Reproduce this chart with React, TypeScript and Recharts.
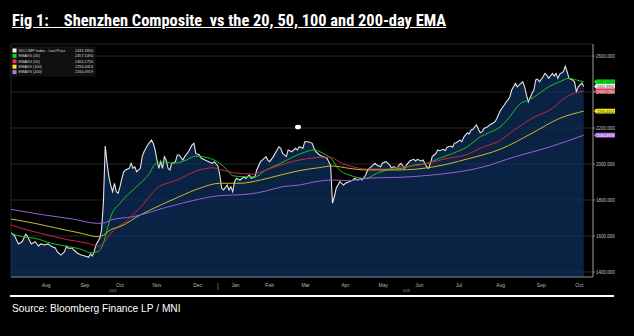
import React from 'react';
import {
  ComposedChart,
  Area,
  Line,
  XAxis,
  YAxis,
  CartesianGrid,
  ReferenceLine,
} from 'recharts';

// x = trading day index (0 = mid-Jul 2024), y = index level
const PRICE_DAYS = [
  0, 2, 4, 6, 7, 8, 9, 11, 13, 15, 16, 18, 20, 22, 24, 25, 27, 29, 30, 31, 33, 34, 36, 38, 40,
  42, 43, 44, 45, 46, 48, 49, 50, 51, 52, 53, 54, 55, 56, 57, 58, 59, 60, 61, 62, 64, 65, 66,
  67, 68, 70, 71, 72, 74, 76, 77, 78, 79, 80, 81, 82, 83, 84, 85, 86, 87, 89, 90, 91, 93, 94,
  96, 98, 99, 100, 102, 103, 105, 107, 109, 110, 112, 113, 114, 115, 117, 118, 119, 120, 121,
  122, 124, 126, 127, 129, 130, 132, 133, 135, 136, 138, 139, 140, 142, 144, 145, 146, 147,
  149, 150, 152, 154, 155, 156, 158, 159, 161, 163, 164, 165, 167, 169, 171, 172, 173, 174,
  175, 176, 178, 180, 181, 183, 185, 186, 188, 189, 190, 192, 193, 195, 197, 198, 200, 201,
  203, 205, 206, 207, 209, 210, 211, 213, 214, 216, 218, 219, 220, 222, 223, 224, 225, 226,
  227, 228, 229, 230, 231, 232, 234, 235, 236, 238, 239, 240, 241, 243, 244, 245, 247, 248,
  249, 250, 251, 252, 253, 254, 255, 256, 258, 259, 261, 262, 263, 264, 265, 267, 268, 269,
  270, 271, 272, 273, 274, 276, 277, 278, 279, 280, 282, 283, 284, 285, 286, 288, 289, 290,
  291, 293, 294, 295, 296, 297, 299, 300, 301, 302, 304, 305, 306, 307, 309, 310,
];
const PRICE_VALUES = [
  1618, 1600, 1556, 1568, 1589, 1611, 1596, 1556, 1568, 1544, 1556, 1550, 1556, 1541, 1533,
  1513, 1494, 1513, 1544, 1532, 1532, 1522, 1504, 1494, 1489, 1482, 1500, 1489, 1513, 1550,
  1587, 1633, 1783, 2100, 2004, 1929, 1880, 1846, 1893, 1846, 1837, 1874, 1920, 1957, 1967,
  1976, 2004, 1976, 1985, 1957, 1976, 2041, 2068, 2106, 2133, 2115, 2078, 2022, 1976, 2013,
  1976, 2041, 2022, 1976, 1967, 2004, 2013, 2050, 2050, 2022, 2041, 2068, 2106, 2115, 2059,
  2050, 2032, 2022, 2013, 2004, 2013, 1989, 1939, 1865, 1856, 1883, 1856, 1874, 1846, 1902,
  1920, 1911, 1929, 1920, 1939, 1920, 1929, 1967, 2013, 2022, 2041, 2022, 2013, 2041, 2078,
  2096, 2087, 2059, 2041, 2078, 2068, 2087, 2078, 2096, 2087, 2124, 2124, 2115, 2087, 2068,
  2050, 2041, 2032, 2013, 1990, 1782, 1818, 1865, 1902, 1883, 1893, 1902, 1911, 1920, 1911,
  1920, 1911, 1939, 1967, 1985, 2004, 1994, 1985, 2004, 2013, 1994, 1976, 1985, 1976, 1994,
  2004, 1976, 1994, 2018, 2026, 2017, 2026, 2017, 2022, 2004, 1985, 1976, 2004, 2041, 2050,
  2059, 2078, 2074, 2082, 2074, 2093, 2100, 2093, 2115, 2118, 2133, 2124, 2148, 2174, 2167,
  2189, 2193, 2207, 2217, 2193, 2174, 2180, 2198, 2207, 2217, 2228, 2235, 2254, 2278, 2300,
  2328, 2346, 2356, 2374, 2411, 2429, 2448, 2429, 2448, 2457, 2429, 2383, 2346, 2393, 2411,
  2467, 2471, 2457, 2485, 2504, 2494, 2476, 2504, 2489, 2504, 2476, 2500, 2513, 2544, 2513,
  2476, 2467, 2457, 2402, 2429, 2450, 2431,
];

const EMA20_DAYS = [0, 6, 13, 22, 31, 38, 43, 47, 50, 52, 54, 59, 64, 70, 75, 78, 82, 88, 95, 100, 108, 113, 117, 120, 126, 132, 138, 146, 153, 158, 164, 169, 174, 177, 183, 192, 198, 205, 212, 218, 225, 232, 239, 247, 254, 259, 265, 270, 275, 281, 286, 291, 297, 302, 306, 310];
const EMA20_VALUES = [1615, 1596, 1587, 1559, 1541, 1526, 1507, 1513, 1559, 1633, 1707, 1782, 1837, 1893, 1948, 2000, 2013, 2004, 2022, 2044, 2030, 2004, 1967, 1935, 1929, 1929, 1967, 2004, 2041, 2062, 2078, 2059, 2022, 1975, 1939, 1920, 1948, 1970, 1976, 1994, 2004, 2032, 2059, 2096, 2152, 2175, 2208, 2263, 2330, 2359, 2393, 2429, 2457, 2476, 2467, 2457];

const EMA50_DAYS = [0, 9, 20, 31, 40, 46, 48, 50, 54, 63, 72, 79, 90, 100, 109, 113, 120, 131, 138, 149, 156, 165, 172, 180, 185, 192, 203, 210, 221, 237, 246, 255, 265, 270, 282, 293, 300, 305, 310];
const EMA50_VALUES = [1661, 1633, 1605, 1578, 1563, 1547, 1544, 1560, 1615, 1689, 1782, 1865, 1911, 1960, 1979, 1970, 1952, 1944, 1967, 2004, 2022, 2035, 2039, 2000, 1985, 1972, 1972, 1982, 1994, 2033, 2050, 2092, 2133, 2171, 2254, 2309, 2370, 2394, 2405];

const EMA100_DAYS = [0, 13, 25, 38, 47, 50, 54, 59, 70, 81, 91, 102, 113, 124, 135, 146, 156, 167, 174, 183, 192, 210, 228, 247, 265, 282, 297, 310];
const EMA100_VALUES = [1694, 1670, 1643, 1615, 1596, 1605, 1635, 1652, 1717, 1772, 1818, 1865, 1893, 1893, 1911, 1939, 1963, 1980, 1989, 1976, 1967, 1967, 1983, 2028, 2083, 2171, 2254, 2294];

const EMA200_DAYS = [0, 16, 34, 47, 51, 54, 66, 84, 102, 111, 129, 138, 147, 156, 165, 174, 183, 192, 216, 228, 255, 273, 291, 310];
const EMA200_VALUES = [1748, 1720, 1693, 1670, 1674, 1689, 1707, 1759, 1805, 1822, 1833, 1850, 1874, 1883, 1902, 1911, 1907, 1920, 1929, 1939, 1982, 2041, 2093, 2160];

// month boundaries (trading day index) and their labels
const MONTH_BOUNDS = [8, 30, 50, 68, 90, 112, 131, 149, 170, 192, 211, 231, 254, 276, 298, 317];
const MONTH_LABELS = ['Aug', 'Sep', 'Oct', 'Nov', 'Dec', 'Jan', 'Feb', 'Mar', 'Apr', 'May', 'Jun', 'Jul', 'Aug', 'Sep', 'Oct'];
const YEAR_DAYS = [55, 214];
const YEAR_LABELS = ['2024', '2025'];
const YEAR_BREAK = 112;

const Y_TICKS = [1400, 1600, 1800, 2000, 2200, 2400, 2600];

const SERIES = [
  { name: 'SZCOMP Index - Last Price', last: '2431.3950', color: '#ffffff', tag: '#f2f2f2', tagText: '#333', value: 2431 },
  { name: 'EMAVG (20)', last: '2457.1494', color: '#1fc21f', tag: '#10e010', tagText: '#063', value: 2457 },
  { name: 'EMAVG (50)', last: '2405.1750', color: '#c8263f', tag: '#f0304a', tagText: '#fdd', value: 2405 },
  { name: 'EMAVG (100)', last: '2294.4414', color: '#c9be2a', tag: '#f2ea10', tagText: '#443', value: 2294 },
  { name: 'EMAVG (200)', last: '2160.4919', color: '#9a5fd6', tag: '#b274ec', tagText: '#eee', value: 2160 },
];

const toRows = (days: number[], vals: number[]) => days.map((d, i) => ({ day: d, v: vals[i] }));
const priceData = toRows(PRICE_DAYS, PRICE_VALUES);
const emaData = [
  toRows(EMA20_DAYS, EMA20_VALUES),
  toRows(EMA50_DAYS, EMA50_VALUES),
  toRows(EMA100_DAYS, EMA100_VALUES),
  toRows(EMA200_DAYS, EMA200_VALUES),
];

const monthTicks = MONTH_BOUNDS.slice(0, -1);
const labelTicks = MONTH_LABELS.map((_, i) => (MONTH_BOUNDS[i] + MONTH_BOUNDS[i + 1]) / 2);

const FONT = '"Liberation Sans", Arial, sans-serif';

const BottomTick = (props: any) => {
  const { x, y, payload } = props;
  const v = payload.value;
  const mi = labelTicks.indexOf(v);
  if (mi >= 0) {
    return (
      <text x={x} y={y + 4} textAnchor="middle" fontSize={5} fill="#b9b9b9" fontFamily={FONT}>
        {MONTH_LABELS[mi]}
      </text>
    );
  }
  const yi = YEAR_DAYS.indexOf(v);
  if (yi >= 0) {
    return (
      <text x={x} y={y + 9} textAnchor="middle" fontSize={3.5} fill="#9a9a9a" fontFamily={FONT}>
        {YEAR_LABELS[yi]}
      </text>
    );
  }
  return <line x1={x} x2={x} y1={y} y2={y + 7} stroke="#9a9a9a" strokeWidth={0.6} />;
};

const PriceTag = (props: any) => {
  const { viewBox, fill, textFill, text } = props;
  const x = viewBox.x + viewBox.width + 1;
  const y = viewBox.y;
  return (
    <g>
      <path
        d={`M${x},${y} L${x + 2},${y - 2.4} L${x + 21},${y - 2.4} L${x + 21},${y + 2.4} L${x + 2},${y + 2.4} Z`}
        fill={fill}
      />
      <text x={x + 3} y={y + 1.4} fontSize={3.6} fill={textFill} fontFamily={FONT}>
        {text}
      </text>
    </g>
  );
};

const Legend = () => (
  <svg
    width={634}
    height={336}
    style={{ position: 'absolute', left: 0, top: 0, pointerEvents: 'none' }}
  >
    <rect x={10} y={47} width={85} height={29} fill="#101010" stroke="#222" strokeWidth={0.5} />
    {SERIES.map((s, i) => (
      <g key={s.name}>
        <rect x={12.5} y={48.5 + i * 5.4} width={4} height={4} fill={s.tag} />
        <text x={18.5} y={51.8 + i * 5.4} fontSize={3.8} fill="#d8d8d8" fontFamily={FONT}>
          {s.name}
        </text>
        <text x={93} y={51.8 + i * 5.4} fontSize={3.8} fill="#d8d8d8" textAnchor="end" fontFamily={FONT}>
          {s.last}
        </text>
      </g>
    ))}
    <ellipse cx={298} cy={127} rx={3} ry={2.3} fill="#ffffff" />
  </svg>
);

export default function App() {
  return (
    <div
      style={{
        position: 'fixed',
        left: 0,
        top: 0,
        width: 634,
        height: 336,
        background: '#000',
        overflow: 'hidden',
      }}
    >
      <div
        style={{
          position: 'absolute',
          left: 12,
          top: 11,
          color: '#fff',
          fontFamily: '"Liberation Sans Narrow", "Roboto Condensed", "DejaVu Sans Condensed", sans-serif',
          fontWeight: 700,
          fontSize: 16.4,
          textDecoration: 'underline',
          whiteSpace: 'pre',
        }}
      >
        {'Fig 1:    Shenzhen Composite  vs the 20, 50, 100 and 200-day EMA'}
      </div>

      <div style={{ position: 'absolute', left: 0, top: 0 }}>
        <ComposedChart
          width={634}
          height={336}
          margin={{ top: 44, right: 0, bottom: 35, left: 11 }}
        >
          <CartesianGrid stroke="rgba(255,255,255,0.2)" strokeWidth={0.8} />
          <XAxis
            dataKey="day"
            type="number"
            domain={[0, 315]}
            allowDataOverflow
            ticks={monthTicks}
            tick={false}
            tickSize={2}
            height={4}
            axisLine={{ stroke: '#9a9a9a', strokeWidth: 0.8 }}
            tickLine={{ stroke: '#9a9a9a', strokeWidth: 0.8 }}
          />
          <XAxis
            xAxisId="lbl"
            dataKey="day"
            type="number"
            domain={[0, 315]}
            allowDataOverflow
            ticks={[...labelTicks, ...YEAR_DAYS, YEAR_BREAK]}
            interval={0}
            tick={<BottomTick />}
            axisLine={false}
            tickLine={false}
            tickSize={0}
            height={20}
          />
          <YAxis
            orientation="right"
            type="number"
            domain={[1372, 2667]}
            allowDataOverflow
            ticks={Y_TICKS}
            width={41}
            tickSize={2}
            tickMargin={1}
            tick={{ fontSize: 4.5, fill: '#c4c4c4', fontFamily: FONT }}
            tickFormatter={(v: number) => v.toFixed(3)}
            axisLine={{ stroke: '#a8a8a8', strokeWidth: 0.8 }}
            tickLine={{ stroke: '#a8a8a8', strokeWidth: 0.8 }}
          />
          <Area
            data={priceData}
            dataKey="v"
            type="linear"
            stroke="#e4e4e4"
            strokeWidth={1.1}
            fill="#0e3061"
            fillOpacity={0.7}
            isAnimationActive={false}
          />
          {emaData.map((d, i) => (
            <Line
              key={i}
              data={d}
              dataKey="v"
              type="monotone"
              stroke={SERIES[i + 1].color}
              strokeWidth={1}
              dot={false}
              isAnimationActive={false}
            />
          ))}
          {[1, 0, 2, 3, 4].map((i) => (
            <ReferenceLine
              key={SERIES[i].name}
              y={SERIES[i].value}
              stroke="none"
              label={<PriceTag fill={SERIES[i].tag} textFill={SERIES[i].tagText} text={SERIES[i].last} />}
            />
          ))}
        </ComposedChart>
      </div>

      <Legend />

      <div
        style={{
          position: 'absolute',
          left: 10,
          top: 295,
          width: 604,
          height: 1.5,
          background: '#fff',
        }}
      />
      <div
        style={{
          position: 'absolute',
          left: 12,
          top: 303,
          color: '#fff',
          fontFamily: FONT,
          fontSize: 10.2,
        }}
      >
        Source: Bloomberg Finance LP / MNI
      </div>
    </div>
  );
}
